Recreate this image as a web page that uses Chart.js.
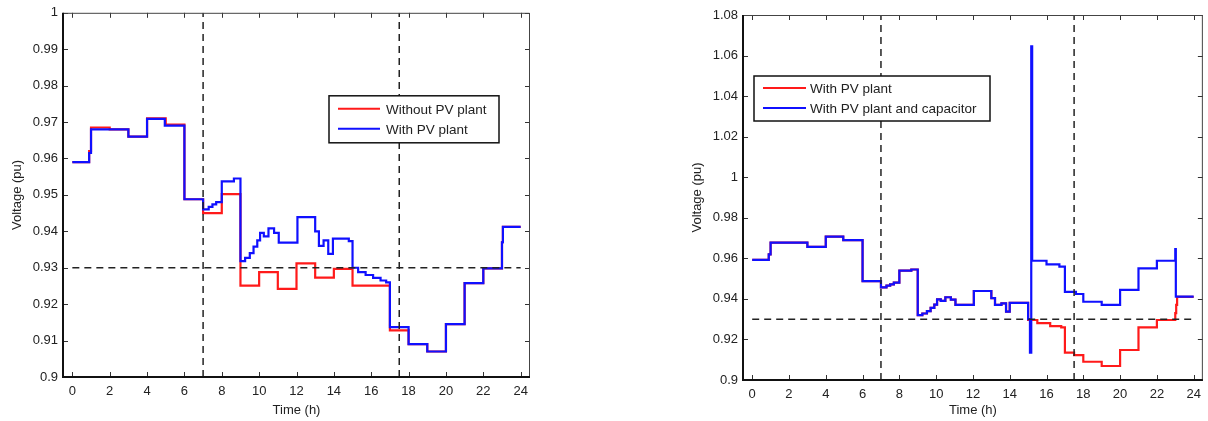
<!DOCTYPE html>
<html>
<head>
<meta charset="utf-8">
<script src="https://cdn.jsdelivr.net/npm/chart.js@4.4.1/dist/chart.umd.min.js"></script>
<style>
body { margin: 0; background: #fff; width: 1208px; height: 421px; overflow: hidden; position: relative; }
.box { position: absolute; top: 0; height: 421px; }
#leftBox { left: 0; width: 545px; }
#rightBox { left: 680px; width: 528px; }
</style>
</head>
<body>
<div class="box" id="leftBox"><canvas id="leftChart"></canvas></div>
<div class="box" id="rightBox"><canvas id="rightChart"></canvas></div>
<script>
// tick labels
var timeTicks = [0, 2, 4, 6, 8, 10, 12, 14, 16, 18, 20, 22, 24];
var leftVoltTicks = [0.9, 0.91, 0.92, 0.93, 0.94, 0.95, 0.96, 0.97, 0.98, 0.99, 1];
var rightVoltTicks = [0.9, 0.92, 0.94, 0.96, 0.98, 1, 1.02, 1.04, 1.06, 1.08];

// limits (dashed lines)
var limitTimes = [7, 17.5];
var limitVolt = 0.93;

// left chart: [time h, voltage pu], each value holds until the next time
var withoutPv = [
    [0, 0.959], [0.9, 0.962], [1, 0.9685], [2, 0.968], [3, 0.966], [4, 0.971], [5, 0.9693],
    [6, 0.9488], [7, 0.945], [8, 0.9502], [9, 0.9251], [10, 0.9288], [11, 0.9242], [12, 0.9312],
    [13, 0.9273], [14, 0.9297], [15, 0.9251], [17, 0.9128], [18, 0.909], [19, 0.907],
    [20, 0.9145], [21, 0.9258], [22, 0.9298], [23, 0.937], [23.05, 0.9412], [24, 0.9412]
];
var withPv = [
    [0, 0.959], [0.9, 0.9615], [1, 0.968], [3, 0.966], [4, 0.9709], [4.95, 0.969], [6, 0.9488],
    [7, 0.946], [7.3, 0.9467], [7.5, 0.9474], [7.7, 0.948], [8, 0.9537], [8.65, 0.9545],
    [9, 0.9318], [9.25, 0.9327], [9.5, 0.934], [9.7, 0.9358], [9.9, 0.9375], [10.05, 0.9396],
    [10.25, 0.9386], [10.5, 0.9408], [10.8, 0.9396], [11.05, 0.9369], [12.05, 0.9439],
    [13, 0.94], [13.2, 0.936], [13.45, 0.9375], [13.7, 0.9338], [13.95, 0.938], [14.8, 0.9373],
    [15, 0.93], [15.3, 0.9288], [15.7, 0.928], [16.1, 0.9272], [16.5, 0.9265], [16.8, 0.926],
    [17, 0.9137], [18, 0.909], [19, 0.907], [20, 0.9145], [21, 0.9258], [22, 0.9298],
    [23, 0.937], [23.05, 0.9412], [24, 0.9412]
];

// right chart: both curves are the same until 15 h
var rightBefore15 = [
    [0, 0.9592], [0.9, 0.962], [1, 0.9677], [3, 0.9657], [4, 0.9707], [4.95, 0.969], [6, 0.9488],
    [7, 0.9457], [7.3, 0.9465], [7.5, 0.9472], [7.7, 0.948], [8, 0.9539], [8.65, 0.9545],
    [9, 0.932], [9.25, 0.9328], [9.5, 0.934], [9.7, 0.9356], [9.9, 0.9372], [10.05, 0.9398],
    [10.25, 0.939], [10.5, 0.9408], [10.8, 0.9396], [11.05, 0.937], [12.05, 0.9439],
    [13, 0.9404], [13.2, 0.937], [13.55, 0.9378], [13.8, 0.9337], [14, 0.938]
];
var pvAfter15 = [
    [15, 0.9296], [15.5, 0.928], [16.2, 0.9266], [16.8, 0.926], [17, 0.9135], [17.5, 0.9123],
    [18, 0.909], [19, 0.9069], [20, 0.9148], [21, 0.926], [22, 0.9296], [23, 0.933],
    [23.05, 0.937], [23.1, 0.941], [24, 0.941]
];
var pvCapAfter15 = [
    [15, 0.93], [15.1, 0.9135], [15.17, 1.0645], [15.22, 0.9588], [16, 0.957], [16.7, 0.9559],
    [17, 0.9435], [17.6, 0.9424], [18, 0.9386], [19, 0.937], [20, 0.9444], [21, 0.955],
    [22, 0.9588], [23, 0.9645], [23.03, 0.9411], [24, 0.9411]
];

var FONT = "'Liberation Sans', Arial, sans-serif";
var TXT = '#222';

function toXY(arr) {
    return arr.map(function (p) { return { x: p[0], y: p[1] }; });
}

function curve(label, color, pts, order) {
    return {
        label: label, inLegend: true, data: toXY(pts), borderColor: color, backgroundColor: color,
        borderWidth: 2.2, pointRadius: 0, stepped: true, tension: 0, order: order
    };
}

function dashed(pts) {
    return {
        label: '', inLegend: false, data: pts, borderColor: '#222', borderWidth: 1.5,
        borderDash: [7, 5], pointRadius: 0, order: 0
    };
}

function limitLines(yMin, yMax) {
    var out = [];
    limitTimes.forEach(function (t) {
        out.push(dashed([{ x: t, y: yMin }, { x: t, y: yMax }]));
    });
    out.push(dashed([{ x: 0, y: limitVolt }, { x: 24, y: limitVolt }]));
    return out;
}

// box, inward ticks and legend
function framePlugin(leg) {
    return {
        id: 'frame',
        afterDraw: function (chart) {
            var c = chart.ctx, a = chart.chartArea;
            var xs = chart.scales.x, ys = chart.scales.y;
            c.save();
            c.strokeStyle = '#333';
            c.lineWidth = 1;
            xs.ticks.forEach(function (t) {
                var px = Math.round(xs.getPixelForValue(t.value)) + 0.5;
                c.beginPath();
                c.moveTo(px, a.bottom); c.lineTo(px, a.bottom - 5);
                c.moveTo(px, a.top); c.lineTo(px, a.top + 5);
                c.stroke();
            });
            ys.ticks.forEach(function (t) {
                var py = Math.round(ys.getPixelForValue(t.value)) + 0.5;
                c.beginPath();
                c.moveTo(a.left, py); c.lineTo(a.left + 5, py);
                c.moveTo(a.right, py); c.lineTo(a.right - 5, py);
                c.stroke();
            });
            c.lineWidth = 1;
            c.strokeStyle = '#444';
            c.beginPath();
            c.moveTo(a.left, a.top + 0.5); c.lineTo(a.right - 0.5, a.top + 0.5); c.lineTo(a.right - 0.5, a.bottom);
            c.stroke();
            c.lineWidth = 2;
            c.strokeStyle = '#111';
            c.beginPath();
            c.moveTo(a.left, a.top); c.lineTo(a.left, a.bottom); c.lineTo(a.right, a.bottom);
            c.stroke();

            // legend
            var bx = a.left + leg.x, by = a.top + leg.y;
            c.fillStyle = '#fff';
            c.fillRect(bx, by, leg.w, leg.h);
            c.lineWidth = 1.5;
            c.strokeStyle = '#111';
            c.strokeRect(bx, by, leg.w, leg.h);
            c.font = leg.size + 'px ' + FONT;
            c.textBaseline = 'middle';
            var row = 0;
            chart.data.datasets.forEach(function (ds) {
                if (!ds.inLegend) return;
                var ly = by + leg.rows[row];
                c.strokeStyle = ds.borderColor;
                c.lineWidth = 2;
                c.beginPath();
                c.moveTo(bx + leg.l0, ly); c.lineTo(bx + leg.l1, ly);
                c.stroke();
                c.fillStyle = TXT;
                c.fillText(ds.label, bx + leg.tx, ly + 1);
                row++;
            });
            c.restore();
        }
    };
}

function makeChart(id, datasets, yMin, yMax, yTicks, pad, xH, leg) {
    return new Chart(document.getElementById(id), {
        type: 'line',
        data: { datasets: datasets },
        options: {
            responsive: true,
            maintainAspectRatio: false,
            animation: false,
            devicePixelRatio: 1,
            layout: { padding: pad },
            plugins: { legend: { display: false }, tooltip: { enabled: false } },
            scales: {
                x: {
                    type: 'linear', min: -0.5, max: 24.5,
                    grid: { display: false, drawTicks: false },
                    border: { display: false },
                    ticks: { padding: 7, color: TXT, font: { family: FONT, size: 13 }, maxRotation: 0, autoSkip: false },
                    title: { display: true, text: 'Time (h)', color: TXT, font: { family: FONT, size: 13 }, padding: { top: 0, bottom: 3 } },
                    afterBuildTicks: function (s) { s.ticks = timeTicks.map(function (v) { return { value: v }; }); },
                    afterFit: function (s) { s.height = xH; }
                },
                y: {
                    type: 'linear', min: yMin, max: yMax,
                    grid: { display: false, drawTicks: false },
                    border: { display: false },
                    ticks: {
                        padding: 5, color: TXT, font: { family: FONT, size: 13 }, autoSkip: false,
                        callback: function (v) { return String(+v.toFixed(3)); }
                    },
                    title: { display: true, text: 'Voltage (pu)', color: TXT, font: { family: FONT, size: 13 }, padding: { top: 10, bottom: 0 } },
                    afterBuildTicks: function (s) { s.ticks = yTicks.map(function (v) { return { value: v }; }); },
                    afterFit: function (s) { s.width = 63; }
                }
            }
        },
        plugins: [framePlugin(leg)]
    });
}

makeChart('leftChart',
    [curve('Without PV plant', '#ff1a1a', withoutPv, 2), curve('With PV plant', '#1010ff', withPv, 1)].concat(limitLines(0.9, 1)),
    0.9, 1, leftVoltTicks,
    { top: 10, right: 15, left: 0, bottom: 0 }, 44,
    { x: 266, y: 83, w: 170, h: 47, l0: 9, l1: 51, tx: 57, rows: [13, 33], size: 13.5 });

makeChart('rightChart',
    [curve('With PV plant', '#ff1a1a', rightBefore15.concat(pvAfter15), 2),
     curve('With PV plant and capacitor', '#1010ff', rightBefore15.concat(pvCapAfter15), 1)].concat(limitLines(0.9, 1.08)),
    0.9, 1.08, rightVoltTicks,
    { top: 15, right: 5, left: 0, bottom: 0 }, 41,
    { x: 11, y: 61, w: 236, h: 45, l0: 9, l1: 52, tx: 56, rows: [12, 32], size: 13.5 });
</script>
</body>
</html>
